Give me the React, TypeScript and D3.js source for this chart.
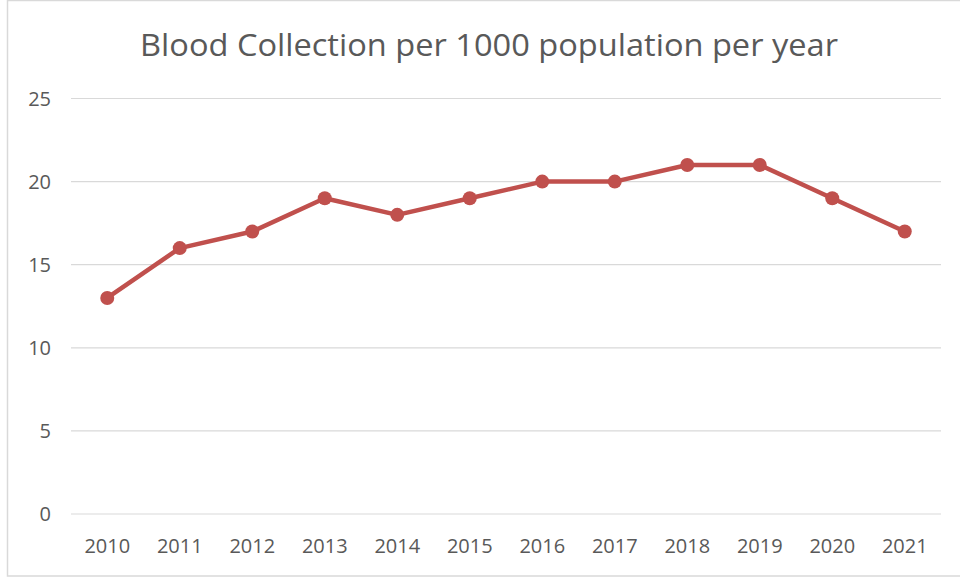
import React from "react";
import * as d3 from "d3";

const title = "Blood Collection per 1000 population per year";
const years = ["2010", "2011", "2012", "2013", "2014", "2015", "2016", "2017", "2018", "2019", "2020", "2021"];
const values = [13, 16, 17, 19, 18, 19, 20, 20, 21, 21, 19, 17];
const yTicks = [0, 5, 10, 15, 20, 25];

const W = 960;
const H = 578;
const plot = { left: 71, right: 941, top: 98.5, bottom: 514 };
const font = "'Open Sans', 'Liberation Sans', sans-serif";
const textColor = "#595959";
const lineColor = "#c0504d";

export default function App() {
  const x = d3.scaleBand<string>().domain(years).range([plot.left, plot.right]);
  const y = d3.scaleLinear().domain([0, 25]).range([plot.bottom, plot.top]);
  const line = d3
    .line<number>()
    .x((_, i) => (x(years[i]) as number) + x.bandwidth() / 2)
    .y((d) => y(d));

  return (
    <svg
      width={W}
      height={H}
      style={{ position: "absolute", left: 0, top: 0, background: "#fff" }}
    >
      <rect x={7.5} y={0.5} width={W + 10} height={575.5} fill="#fff" stroke="#d9d9d9" strokeWidth={1.5} />
      <text
        x={489}
        y={56}
        textAnchor="middle"
        fontFamily={font}
        fontSize={31}
        textLength={698}
        lengthAdjust="spacingAndGlyphs"
        fill={textColor}
      >
        {title}
      </text>
      {yTicks.map((t) => (
        <g key={t}>
          <line x1={plot.left} x2={plot.right} y1={y(t)} y2={y(t)} stroke="#d9d9d9" strokeWidth={1.2} />
          <text
            x={51}
            y={y(t) + 7}
            textAnchor="end"
            fontFamily={font}
            fontSize={20}
            fill={textColor}
          >
            {t}
          </text>
        </g>
      ))}
      {years.map((yr) => (
        <text
          key={yr}
          x={(x(yr) as number) + x.bandwidth() / 2}
          y={553}
          textAnchor="middle"
          fontFamily={font}
          fontSize={20}
          fill={textColor}
        >
          {yr}
        </text>
      ))}
      <path d={line(values) || ""} fill="none" stroke={lineColor} strokeWidth={4.5} strokeLinejoin="round" />
      {values.map((v, i) => (
        <circle
          key={i}
          cx={(x(years[i]) as number) + x.bandwidth() / 2}
          cy={y(v)}
          r={7}
          fill={lineColor}
        />
      ))}
    </svg>
  );
}
